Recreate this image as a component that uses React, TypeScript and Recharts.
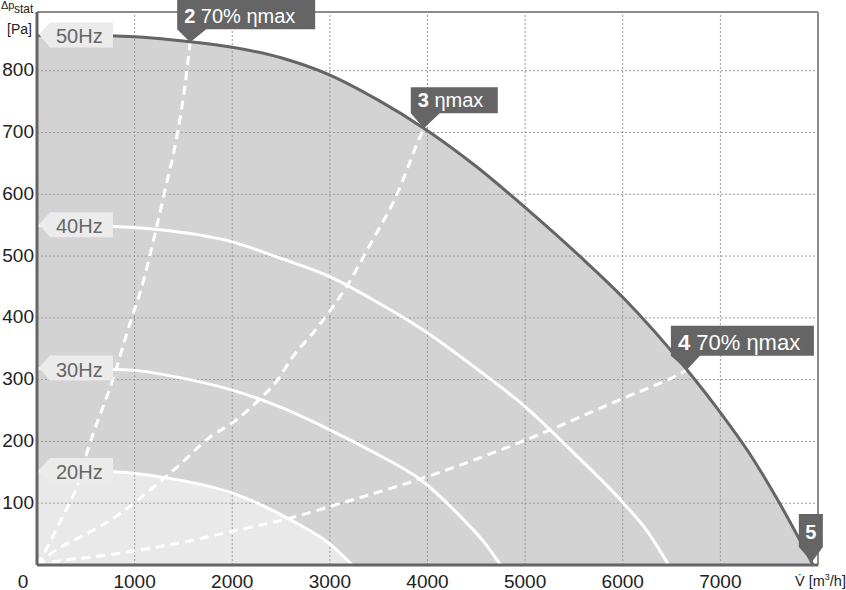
import React from "react";
import {
  ComposedChart,
  Area,
  Line,
  XAxis,
  YAxis,
  ReferenceLine,
  ReferenceDot,
  Label,
} from "recharts";

const FONT = '"Liberation Sans", Arial, Helvetica, sans-serif';

// [flow m3/h, static pressure Pa]
const curve50Hz = [
  [0, 857], [500, 857], [1000, 855], [1500, 848], [2000, 838], [2500, 821],
  [3000, 793], [3500, 752], [3962, 707], [4500, 645], [5005, 578], [5565, 499],
  [6008, 432], [6657, 316], [7008, 245], [7300, 180], [7570, 110], [7950, 0],
];
const curve40Hz = [
  [0, 550], [790, 548], [1235, 543], [2000, 523], [2500, 496], [3008, 466],
  [3500, 424], [3929, 383], [4500, 318], [5002, 256], [5500, 181], [6008, 100],
  [6250, 55], [6470, 0],
];
const curve30Hz = [
  [0, 318], [791, 317], [1006, 315], [1500, 302], [2000, 283], [2500, 255],
  [3008, 218], [3500, 178], [3929, 138], [4371, 73], [4600, 33], [4747, 0],
];
const curve20Hz = [
  [0, 152], [791, 151], [1006, 148], [1404, 139], [2010, 116], [2598, 73],
  [3008, 33], [3230, 0],
];

// system curves (dashed)
const eff70Left = [
  [0, 0], [58, 14], [110, 30], [280, 84], [382, 116], [552, 202], [774, 299],
  [962, 396], [1064, 445], [1218, 542], [1303, 601], [1439, 699], [1514, 774],
  [1569, 846],
];
const effMax = [
  [0, 0], [212, 26], [450, 46], [757, 73], [1030, 105], [1439, 159], [1780, 208],
  [2000, 230], [2292, 270], [2462, 299], [2598, 332], [2905, 391], [3180, 453],
  [3417, 520], [3690, 601], [3894, 682], [3962, 707],
];
const eff70Right = [
  [0, 0], [280, 8], [620, 14], [1006, 23], [1439, 35], [1985, 54], [2667, 79],
  [3008, 95], [3997, 143], [5002, 202], [6008, 270], [6554, 307], [6657, 316],
];

const xTicks = [0, 1000, 2000, 3000, 4000, 5000, 6000, 7000];
const yTicks = [100, 200, 300, 400, 500, 600, 700, 800];

const speedLabels = ["50Hz", "40Hz", "30Hz", "20Hz"];
const speedStart = [857, 550, 318, 152];

const pointIds = ["2", "3", "4", "5"];
const pointTexts = ["70% ηmax", "ηmax", "70% ηmax", ""];
const pointFlow = [1569, 3962, 6657, 7937];
const pointPressure = [846, 707, 316, 5];

const rows = (pts: number[][]) => pts.map(([q, p]) => ({ q, p }));

const tagBox: Record<string, { left: number; width: number; top: number; height: number; font: number }> = {
  "2": { left: -13, width: 138, top: -44, height: 31, font: 20 },
  "3": { left: -13, width: 87, top: -41, height: 26, font: 20 },
  "4": { left: -16, width: 143, top: -44, height: 30, font: 22 },
  "5": { left: -13, width: 24, top: -48, height: 33, font: 20 },
};

const DARK = "#656565";

function PointTag({ cx, cy, id, text }: any) {
  const b = tagBox[id];
  const bottom = b.top + b.height;
  if (id === "5") {
    const d = `M${cx + b.left},${cy + b.top} H${cx + b.left + b.width} V${cy + bottom} L${cx},${cy} L${cx + b.left},${cy + bottom} Z`;
    return (
      <g>
        <path d={d} fill={DARK} />
        <text x={cx - 1} y={cy - 23} textAnchor="middle" fill="#fff" fontSize={b.font} fontWeight="bold" fontFamily={FONT}>
          {id}
        </text>
      </g>
    );
  }
  const d = `M${cx + b.left},${cy + b.top} H${cx + b.left + b.width} V${cy + bottom} H${cx + b.left + 29} L${cx},${cy} L${cx + b.left},${cy + bottom} Z`;
  return (
    <g>
      <path d={d} fill={DARK} />
      <text x={cx + b.left + 7} y={cy + bottom - 6} fill="#fff" fontSize={b.font} fontFamily={FONT}>
        <tspan fontWeight="bold">{id}</tspan>
        {" " + text}
      </text>
    </g>
  );
}

function SpeedTag({ cx, cy, text }: any) {
  const d = `M${cx + 2},${cy - 1} L${cx + 13},${cy - 13} H${cx + 76} V${cy + 12} H${cx + 13} Z`;
  return (
    <g>
      <path d={d} fill="#ebebeb" />
      <text x={cx + 19} y={cy + 8} fill="#666" fontSize={20} fontFamily={FONT}>
        {text}
      </text>
    </g>
  );
}

function XTick({ x, y, payload }: any) {
  const shift = payload.value === 0 ? -14 : 0;
  return (
    <text x={x + shift} y={y} dy={14.5} textAnchor="middle" fill="#222" fontSize={19} fontFamily={FONT}>
      {payload.value}
    </text>
  );
}

function YTick({ x, y, payload }: any) {
  return (
    <text x={x + 5} y={y} dy={5.5} textAnchor="end" fill="#222" fontSize={19} fontFamily={FONT}>
      {payload.value}
    </text>
  );
}

function YTitle({ viewBox }: any) {
  const top = viewBox.y;
  return (
    <g fill="#222" fontFamily={FONT}>
      <text x={1} y={top - 3} fontSize={11}>Δp</text>
      <text x={14} y={top + 1} fontSize={12}>stat</text>
      <text x={32} y={top + 22} fontSize={14} textAnchor="end">[Pa]</text>
    </g>
  );
}

function XTitle({ viewBox }: any) {
  const right = viewBox.x + viewBox.width;
  return (
    <text x={right - 23} y={viewBox.y + 21} fill="#222" fontSize={14.5} fontFamily={FONT}>
      {"V\u0307 [m"}
      <tspan dy={-6} fontSize={9}>3</tspan>
      <tspan dy={6}>/h]</tspan>
    </text>
  );
}

export default function App() {
  const gridX = xTicks.filter((v) => v > 0);
  return (
    <div style={{ position: "absolute", left: 0, top: 0, width: 846, height: 590, background: "#fff" }}>
      <ComposedChart width={846} height={590} margin={{ top: 12, right: 28, bottom: 0, left: 0 }}>
        <XAxis
          type="number"
          dataKey="q"
          domain={[0, 8000]}
          ticks={xTicks}
          allowDataOverflow
          height={25}
          tickLine={false}
          axisLine={{ stroke: DARK, strokeWidth: 3 }}
          tick={<XTick />}
        >
          <Label content={<XTitle />} />
        </XAxis>
        <YAxis
          type="number"
          dataKey="p"
          domain={[0, 895]}
          ticks={yTicks}
          allowDataOverflow
          width={37}
          tickLine={false}
          axisLine={{ stroke: DARK, strokeWidth: 3 }}
          tick={<YTick />}
        >
          <Label content={<YTitle />} />
        </YAxis>

        <Area data={rows(curve50Hz)} dataKey="p" type="monotone" stroke="none" fill="#d3d3d3" fillOpacity={1} isAnimationActive={false} />
        <Area data={rows(curve20Hz)} dataKey="p" type="monotone" stroke="none" fill="#e9e9e9" fillOpacity={1} isAnimationActive={false} />

        {gridX.map((v) => (
          <ReferenceLine key={"gx" + v} x={v} stroke="#999" strokeDasharray="2 2" />
        ))}
        {yTicks.map((v) => (
          <ReferenceLine key={"gy" + v} y={v} stroke="#999" strokeDasharray="2 2" />
        ))}
        <ReferenceLine y={895} stroke="#8c8c8c" strokeWidth={2} />
        <ReferenceLine x={8000} stroke="#8c8c8c" strokeWidth={2} />

        <Line data={rows(curve20Hz)} dataKey="p" type="monotone" stroke="#fff" strokeWidth={3} dot={false} activeDot={false} isAnimationActive={false} />
        <Line data={rows(curve30Hz)} dataKey="p" type="monotone" stroke="#fff" strokeWidth={3} dot={false} activeDot={false} isAnimationActive={false} />
        <Line data={rows(curve40Hz)} dataKey="p" type="monotone" stroke="#fff" strokeWidth={3} dot={false} activeDot={false} isAnimationActive={false} />

        <Line data={rows(eff70Left)} dataKey="p" type="monotone" stroke="#fff" strokeWidth={3} strokeDasharray="9 6" dot={false} activeDot={false} isAnimationActive={false} />
        <Line data={rows(effMax)} dataKey="p" type="monotone" stroke="#fff" strokeWidth={3} strokeDasharray="9 6" dot={false} activeDot={false} isAnimationActive={false} />
        <Line data={rows(eff70Right)} dataKey="p" type="monotone" stroke="#fff" strokeWidth={3} strokeDasharray="9 6" dot={false} activeDot={false} isAnimationActive={false} />

        <Line data={rows(curve50Hz)} dataKey="p" type="monotone" stroke={DARK} strokeWidth={3} dot={false} activeDot={false} isAnimationActive={false} />

        {speedLabels.map((s, i) => (
          <ReferenceDot key={s} x={0} y={speedStart[i]} r={0} shape={(props: any) => <SpeedTag {...props} text={s} />} />
        ))}
        {pointIds.map((id, i) => (
          <ReferenceDot
            key={"pt" + id}
            x={pointFlow[i]}
            y={pointPressure[i]}
            r={0}
            shape={(props: any) => <PointTag {...props} id={id} text={pointTexts[i]} />}
          />
        ))}
      </ComposedChart>
    </div>
  );
}
